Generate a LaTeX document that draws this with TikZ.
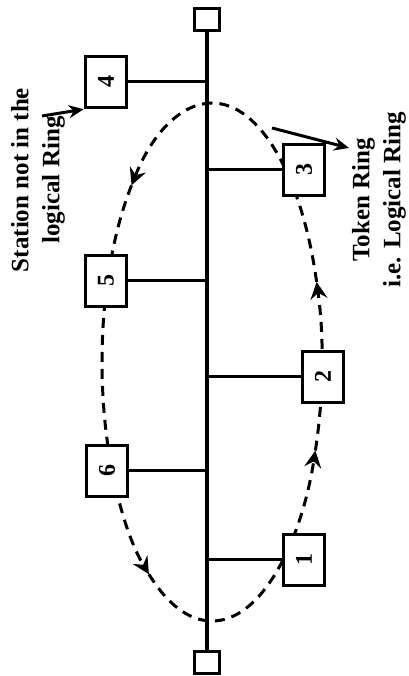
\documentclass[tikz,border=0pt]{standalone}
\usepackage{fontspec}
\setmainfont{Liberation Serif}
\usepackage{tikz}
\usetikzlibrary{arrows.meta,calc}

\begin{document}
\begin{tikzpicture}[x=1pt,y=1pt,
  station/.style={draw, line width=3.5pt, fill=white, minimum width=41pt, minimum height=51pt, inner sep=0pt, font=\bfseries\fontsize{24}{24}\selectfont},
  term/.style={draw, line width=3pt, fill=white, minimum width=25pt, minimum height=22pt, inner sep=0pt},
  ring/.style={line width=3pt, dash pattern=on 10pt off 7pt},
  ringtip/.style={-{Stealth[length=17pt,width=17pt,inset=6pt]}},
  note/.style={rotate=90, align=center, font=\bfseries\fontsize{25}{31}\selectfont},
  pointer/.style={line width=3pt, -{Stealth[length=15pt,width=13pt]}}]
\useasboundingbox (0,0) rectangle (408,676);
\coordinate (ringc) at (212,314);
\foreach \a/\b in {90/137,137/235,235/340,340/378}
  \draw[ring,ringtip] ($(ringc)+(\a:110 and 259)$) arc[start angle=\a, end angle=\b, x radius=110, y radius=259];
\draw[ring] ($(ringc)+(378:110 and 259)$) arc[start angle=378, end angle=450, x radius=110, y radius=259];
\node[term] (tmtop) at (207,656) {};
\node[term] (tmbot) at (207,13) {};
\draw[line width=3.5pt] (tmtop.south) -- (tmbot.north);
\node[station] (s4) at (106,594) {\rotatebox{90}{4}};
\node[station] (s3) at (304,506) {\rotatebox{90}{3}};
\node[station] (s5) at (106,395) {\rotatebox{90}{5}};
\node[station] (s2) at (323,299) {\rotatebox{90}{2}};
\node[station] (s6) at (107,205) {\rotatebox{90}{6}};
\node[station] (s1) at (304,116) {\rotatebox{90}{1}};
\foreach \s in {s4,s5,s6}
  \draw[line width=3pt] (\s.east) -- (\s.east -| tmtop.south);
\foreach \s in {s3,s2,s1}
  \draw[line width=3pt] (\s.west) -- (\s.west -| tmtop.south);
\node[note] (notein) at (38,496) {Station not in the\\logical Ring};
\coordinate (notetail) at (42,560);
\draw[pointer] (notetail) -- (s4.south west);
\node[note] (noteout) at (379,476) {Token Ring\\i.e. Logical Ring};
\coordinate (ringtail) at (272,548);
\coordinate (ringhead) at (349,528);
\draw[pointer] (ringtail) -- (ringhead);
\end{tikzpicture}
\end{document}
